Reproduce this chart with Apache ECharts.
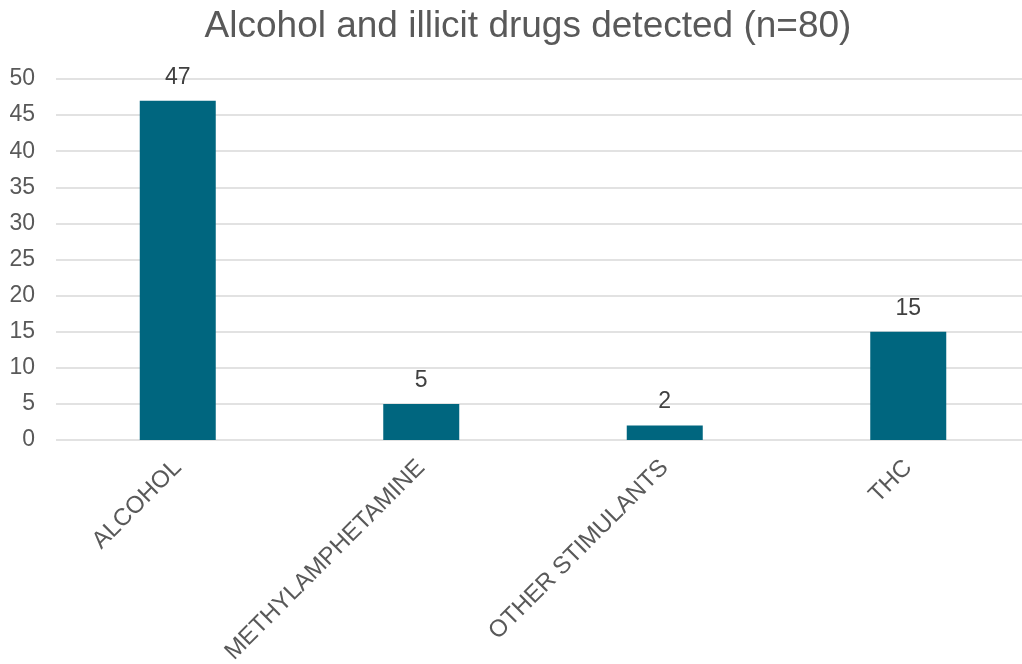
<!DOCTYPE html>
<html>
<head>
<meta charset="utf-8">
<script src="https://cdn.jsdelivr.net/npm/echarts@6/dist/echarts.min.js"></script>
<style>
  html, body { margin: 0; padding: 0; background: #fff; }
  #main { width: 1022px; height: 664px; }
</style>
</head>
<body>
<div id="main"></div>
<script>
// data
var categories = ['ALCOHOL', 'METHYLAMPHETAMINE', 'OTHER STIMULANTS', 'THC'];
var counts = [47, 5, 2, 15];

var chart = echarts.init(document.getElementById('main'));
var font = "'Liberation Sans', Arial, sans-serif";

var option = {
    animation: false,
    title: {
        text: 'Alcohol and illicit drugs detected (n=80)',
        left: 523,
        top: 3,
        textAlign: 'center',
        textStyle: { fontFamily: font, fontSize: 37, fontWeight: 'normal', color: '#595959' }
    },
    grid: { left: 56, right: -8, top: 79, bottom: 224, outerBoundsMode: 'none' },
    xAxis: {
        type: 'category',
        data: categories,
        axisLine: { show: false },
        axisTick: { show: false },
        axisLabel: {
            rotate: 45,
            interval: 0,
            margin: 24,
            fontFamily: font,
            fontSize: 24,
            color: '#595959'
        }
    },
    yAxis: {
        type: 'value',
        min: 0,
        max: 50,
        interval: 5,
        axisLine: { show: false },
        axisTick: { show: false },
        splitLine: { lineStyle: { color: '#d9d9d9', width: 1.5 } },
        axisLabel: { margin: 21, fontFamily: font, fontSize: 23, color: '#595959' }
    },
    series: [{
        type: 'bar',
        data: counts,
        barWidth: 76,
        itemStyle: { color: '#00667f' },
        label: {
            show: true,
            position: 'top',
            distance: 12,
            fontFamily: font,
            fontSize: 23,
            color: '#404040'
        }
    }]
};
chart.setOption(option);
</script>
</body>
</html>
